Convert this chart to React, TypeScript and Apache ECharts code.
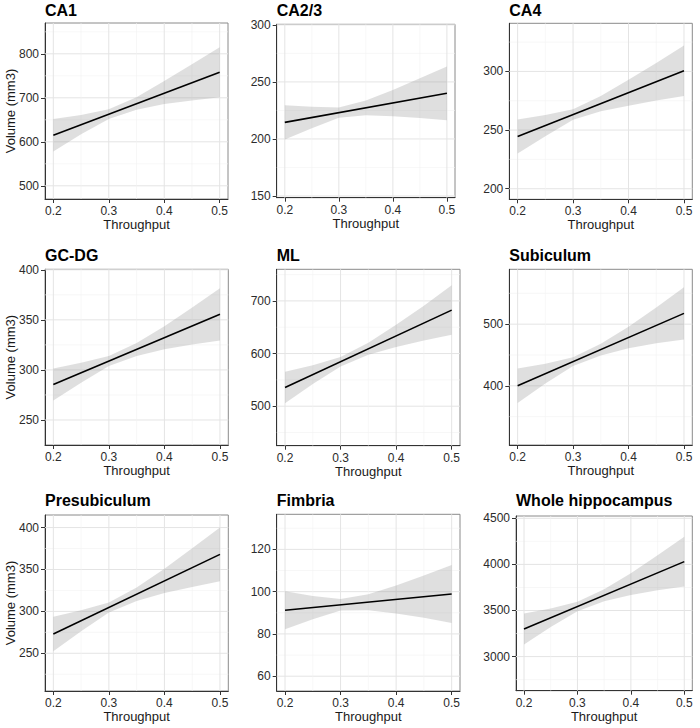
import React, { useEffect, useRef } from "react";
import * as echarts from "echarts";

// ---------- data ----------
const X_BAND = [0.2, 0.25, 0.3, 0.35, 0.4, 0.45, 0.5];
const X_LINE = [0.2, 0.5];
const X_TICKS = [0.2, 0.3, 0.4, 0.5];
const X_MINOR = [0.25, 0.35, 0.45];
const X_RANGE = [0.185, 0.515];

const titles = ["CA1", "CA2/3", "CA4", "GC-DG", "ML", "Subiculum", "Presubiculum", "Fimbria", "Whole hippocampus"];

const ca1Line = [615, 758];
const ca1Upper = [652, 661, 674, 701, 738, 776, 815];
const ca1Lower = [578, 617, 652, 673, 686, 694, 701];

const ca23Line = [214.5, 240];
const ca23Upper = [229.5, 228.3, 227.5, 233.8, 243, 253.3, 263.5];
const ca23Lower = [199.5, 209.3, 218.5, 220.8, 220, 218.3, 216.5];

const ca4Line = [244.5, 300.5];
const ca4Upper = [259, 262.8, 267.7, 279, 292.8, 307.2, 322];
const ca4Lower = [230, 244.8, 258.7, 266, 270.8, 275.2, 279];

const gcdgLine = [285.5, 355.5];
const gcdgUpper = [301.5, 307.2, 313.8, 327, 343.7, 362.3, 381.5];
const gcdgLower = [269.5, 287.2, 303.8, 314, 320.7, 325.3, 329.5];

const mlLine = [535.5, 682.5];
const mlUpper = [565.5, 578, 593.5, 620.5, 654.5, 691, 729.5];
const mlLower = [505.5, 542, 575.5, 597.5, 612.5, 625, 635.5];

const subLine = [400, 517.5];
const subUpper = [428, 435.6, 446.2, 468.3, 495.8, 526.9, 560];
const subLower = [372, 403.6, 432.2, 449.3, 460.8, 468.9, 475];

const presubLine = [273, 368];
const presubUpper = [293.5, 301.3, 310.7, 328.5, 350.8, 375.2, 400];
const presubLower = [252.5, 276.3, 298.7, 312.5, 321.8, 329.2, 336];

const fimLine = [91.2, 98.9];
const fimUpper = [100.2, 98, 96.5, 98.8, 102.9, 107.6, 112.6];
const fimLower = [82.2, 87, 91.1, 91.2, 89.7, 87.6, 85.2];

const wholeLine = [3300, 4030];
const wholeUpper = [3468, 3521.7, 3595.3, 3730, 3904.7, 4098.3, 4300];
const wholeLower = [3132, 3321.7, 3491.3, 3600, 3668.7, 3718.3, 3760];

const lines = [ca1Line, ca23Line, ca4Line, gcdgLine, mlLine, subLine, presubLine, fimLine, wholeLine];
const uppers = [ca1Upper, ca23Upper, ca4Upper, gcdgUpper, mlUpper, subUpper, presubUpper, fimUpper, wholeUpper];
const lowers = [ca1Lower, ca23Lower, ca4Lower, gcdgLower, mlLower, subLower, presubLower, fimLower, wholeLower];

const yRanges = [
  [470, 870], [148.5, 300.5], [191, 341],
  [225, 400.5], [425, 760], [304, 589],
  [205, 415], [53, 136.6], [2630, 4525],
];
const yTicks = [
  [500, 600, 700, 800], [150, 200, 250, 300], [200, 250, 300],
  [250, 300, 350, 400], [500, 600, 700], [400, 500],
  [250, 300, 350, 400], [60, 80, 100, 120], [3000, 3500, 4000, 4500],
];
const yMinor = [
  [550, 650, 750, 850], [175, 225, 275], [225, 275, 325],
  [275, 325, 375], [450, 550, 650, 750], [350, 450, 550],
  [225, 275, 325, 375], [70, 90, 110, 130], [2750, 3250, 3750, 4250],
];

const Y_TITLE = "Volume (mm3)";
const X_TITLE = "Throughput";

// ---------- layout ----------
const layout = [
  { left: 45, top: 23, width: 183, height: 176 },
  { left: 276.7, top: 24.3, width: 178.3, height: 173.4 },
  { left: 509.3, top: 23.3, width: 183, height: 176 },
  { left: 45, top: 269.3, width: 183.3, height: 175.7 },
  { left: 276.7, top: 269.3, width: 183.3, height: 176.4 },
  { left: 509.3, top: 269.3, width: 183, height: 175.7 },
  { left: 45, top: 515, width: 183.3, height: 176 },
  { left: 276.7, top: 514.3, width: 183.3, height: 176.7 },
  { left: 516, top: 516, width: 176.3, height: 174.7 },
];
const titleY = [10.5, 10.5, 10.5, 255.5, 255.5, 255.5, 500.7, 500.7, 500.7];

const FONT = "Liberation Sans, Arial, Helvetica, sans-serif";

export default function App() {
  const ref = useRef<HTMLDivElement>(null);

  useEffect(() => {
    if (!ref.current) return;
    const chart = echarts.init(ref.current, undefined, { renderer: "svg" });

    const grid = layout.map((g) => ({
      left: g.left,
      top: g.top,
      width: g.width,
      height: g.height,
      show: true,
      borderColor: "#8a8a8a",
      borderWidth: 1,
      backgroundColor: "transparent",
      containLabel: false,
      outerBoundsMode: "none",
    }));

    const xAxis = layout.map((_, i) => ({
      type: "value",
      gridIndex: i,
      min: X_RANGE[0],
      max: X_RANGE[1],
      axisLine: { show: true, onZero: false, lineStyle: { color: "#333", width: 1 } },
      axisTick: { show: true, customValues: X_TICKS, length: 4, lineStyle: { color: "#333" } },
      axisLabel: {
        customValues: X_TICKS,
        formatter: (v: number) => v.toFixed(1),
        fontSize: 12,
        color: "#2b2b2b",
        margin: 6,
        fontFamily: FONT,
      },
      splitLine: { show: false },
      name: X_TITLE,
      nameLocation: "middle",
      nameGap: 19,
      nameTextStyle: { fontSize: 13, color: "#1a1a1a", fontFamily: FONT },
    }));

    const yAxis = layout.map((_, i) => ({
      type: "value",
      gridIndex: i,
      min: yRanges[i][0],
      max: yRanges[i][1],
      axisLine: { show: true, onZero: false, lineStyle: { color: "#333", width: 1 } },
      axisTick: { show: true, customValues: yTicks[i], length: 4, lineStyle: { color: "#333" } },
      axisLabel: {
        customValues: yTicks[i],
        formatter: (v: number) => String(v),
        fontSize: 12,
        color: "#2b2b2b",
        margin: 6,
        fontFamily: FONT,
      },
      splitLine: { show: false },
    }));

    const series: any[] = [];
    layout.forEach((_, i) => {
      const [y0] = yRanges[i];
      const gridData: number[][] = [
        ...yTicks[i].map((v) => [X_RANGE[0], v, 0]),
        ...yMinor[i].map((v) => [X_RANGE[0], v, 1]),
        ...X_TICKS.map((v) => [v, y0, 2]),
        ...X_MINOR.map((v) => [v, y0, 3]),
      ];
      series.push({
        type: "custom",
        xAxisIndex: i,
        yAxisIndex: i,
        silent: true,
        z: 1,
        encode: { x: 0, y: 1 },
        data: gridData,
        renderItem: (params: any, api: any) => {
          const cs = params.coordSys;
          const kind = api.value(2);
          const p = api.coord([api.value(0), api.value(1)]);
          const major = kind === 0 || kind === 2;
          const style = { stroke: major ? "#e4e4e4" : "#f1f1f1", lineWidth: major ? 1 : 0.6 };
          if (kind < 2) {
            return { type: "line", shape: { x1: cs.x, y1: p[1], x2: cs.x + cs.width, y2: p[1] }, style };
          }
          return { type: "line", shape: { x1: p[0], y1: cs.y, x2: p[0], y2: cs.y + cs.height }, style };
        },
      });
      const up = uppers[i];
      const lo = lowers[i];
      series.push({
        type: "custom",
        xAxisIndex: i,
        yAxisIndex: i,
        silent: true,
        z: 2,
        encode: { x: 0, y: 1 },
        data: X_BAND.map((x, j) => [x, up[j], lo[j]]),
        renderItem: (params: any, api: any) => {
          if (params.dataIndex !== 0) return null;
          const pts: number[][] = [];
          X_BAND.forEach((x, j) => pts.push(api.coord([x, up[j]])));
          for (let j = X_BAND.length - 1; j >= 0; j--) pts.push(api.coord([X_BAND[j], lo[j]]));
          return { type: "polygon", shape: { points: pts }, style: { fill: "rgba(150,150,150,0.3)" } };
        },
      });
      series.push({
        type: "line",
        xAxisIndex: i,
        yAxisIndex: i,
        silent: true,
        z: 3,
        symbol: "none",
        data: X_LINE.map((x, j) => [x, lines[i][j]]),
        lineStyle: { color: "#000", width: 1.6 },
      });
    });

    const graphic: any[] = [];
    layout.forEach((g, i) => {
      graphic.push({
        type: "text",
        x: g.left,
        y: titleY[i],
        style: {
          text: titles[i],
          fontSize: 16,
          fontWeight: "bold",
          fontFamily: FONT,
          fill: "#000",
          textAlign: "left",
          textVerticalAlign: "middle",
        },
      });
      if (i % 3 === 0) {
        graphic.push({
          type: "text",
          x: 10,
          y: g.top + g.height / 2,
          rotation: Math.PI / 2,
          style: {
            text: Y_TITLE,
            fontSize: 13,
            fontFamily: FONT,
            fill: "#1a1a1a",
            textAlign: "center",
            textVerticalAlign: "middle",
          },
        });
      }
    });

    chart.setOption({
      animation: false,
      backgroundColor: "#fff",
      grid,
      xAxis,
      yAxis,
      series,
      graphic,
    });

    return () => chart.dispose();
  }, []);

  return (
    <div
      ref={ref}
      style={{ position: "absolute", left: 0, top: 0, width: 700, height: 728 }}
    />
  );
}
